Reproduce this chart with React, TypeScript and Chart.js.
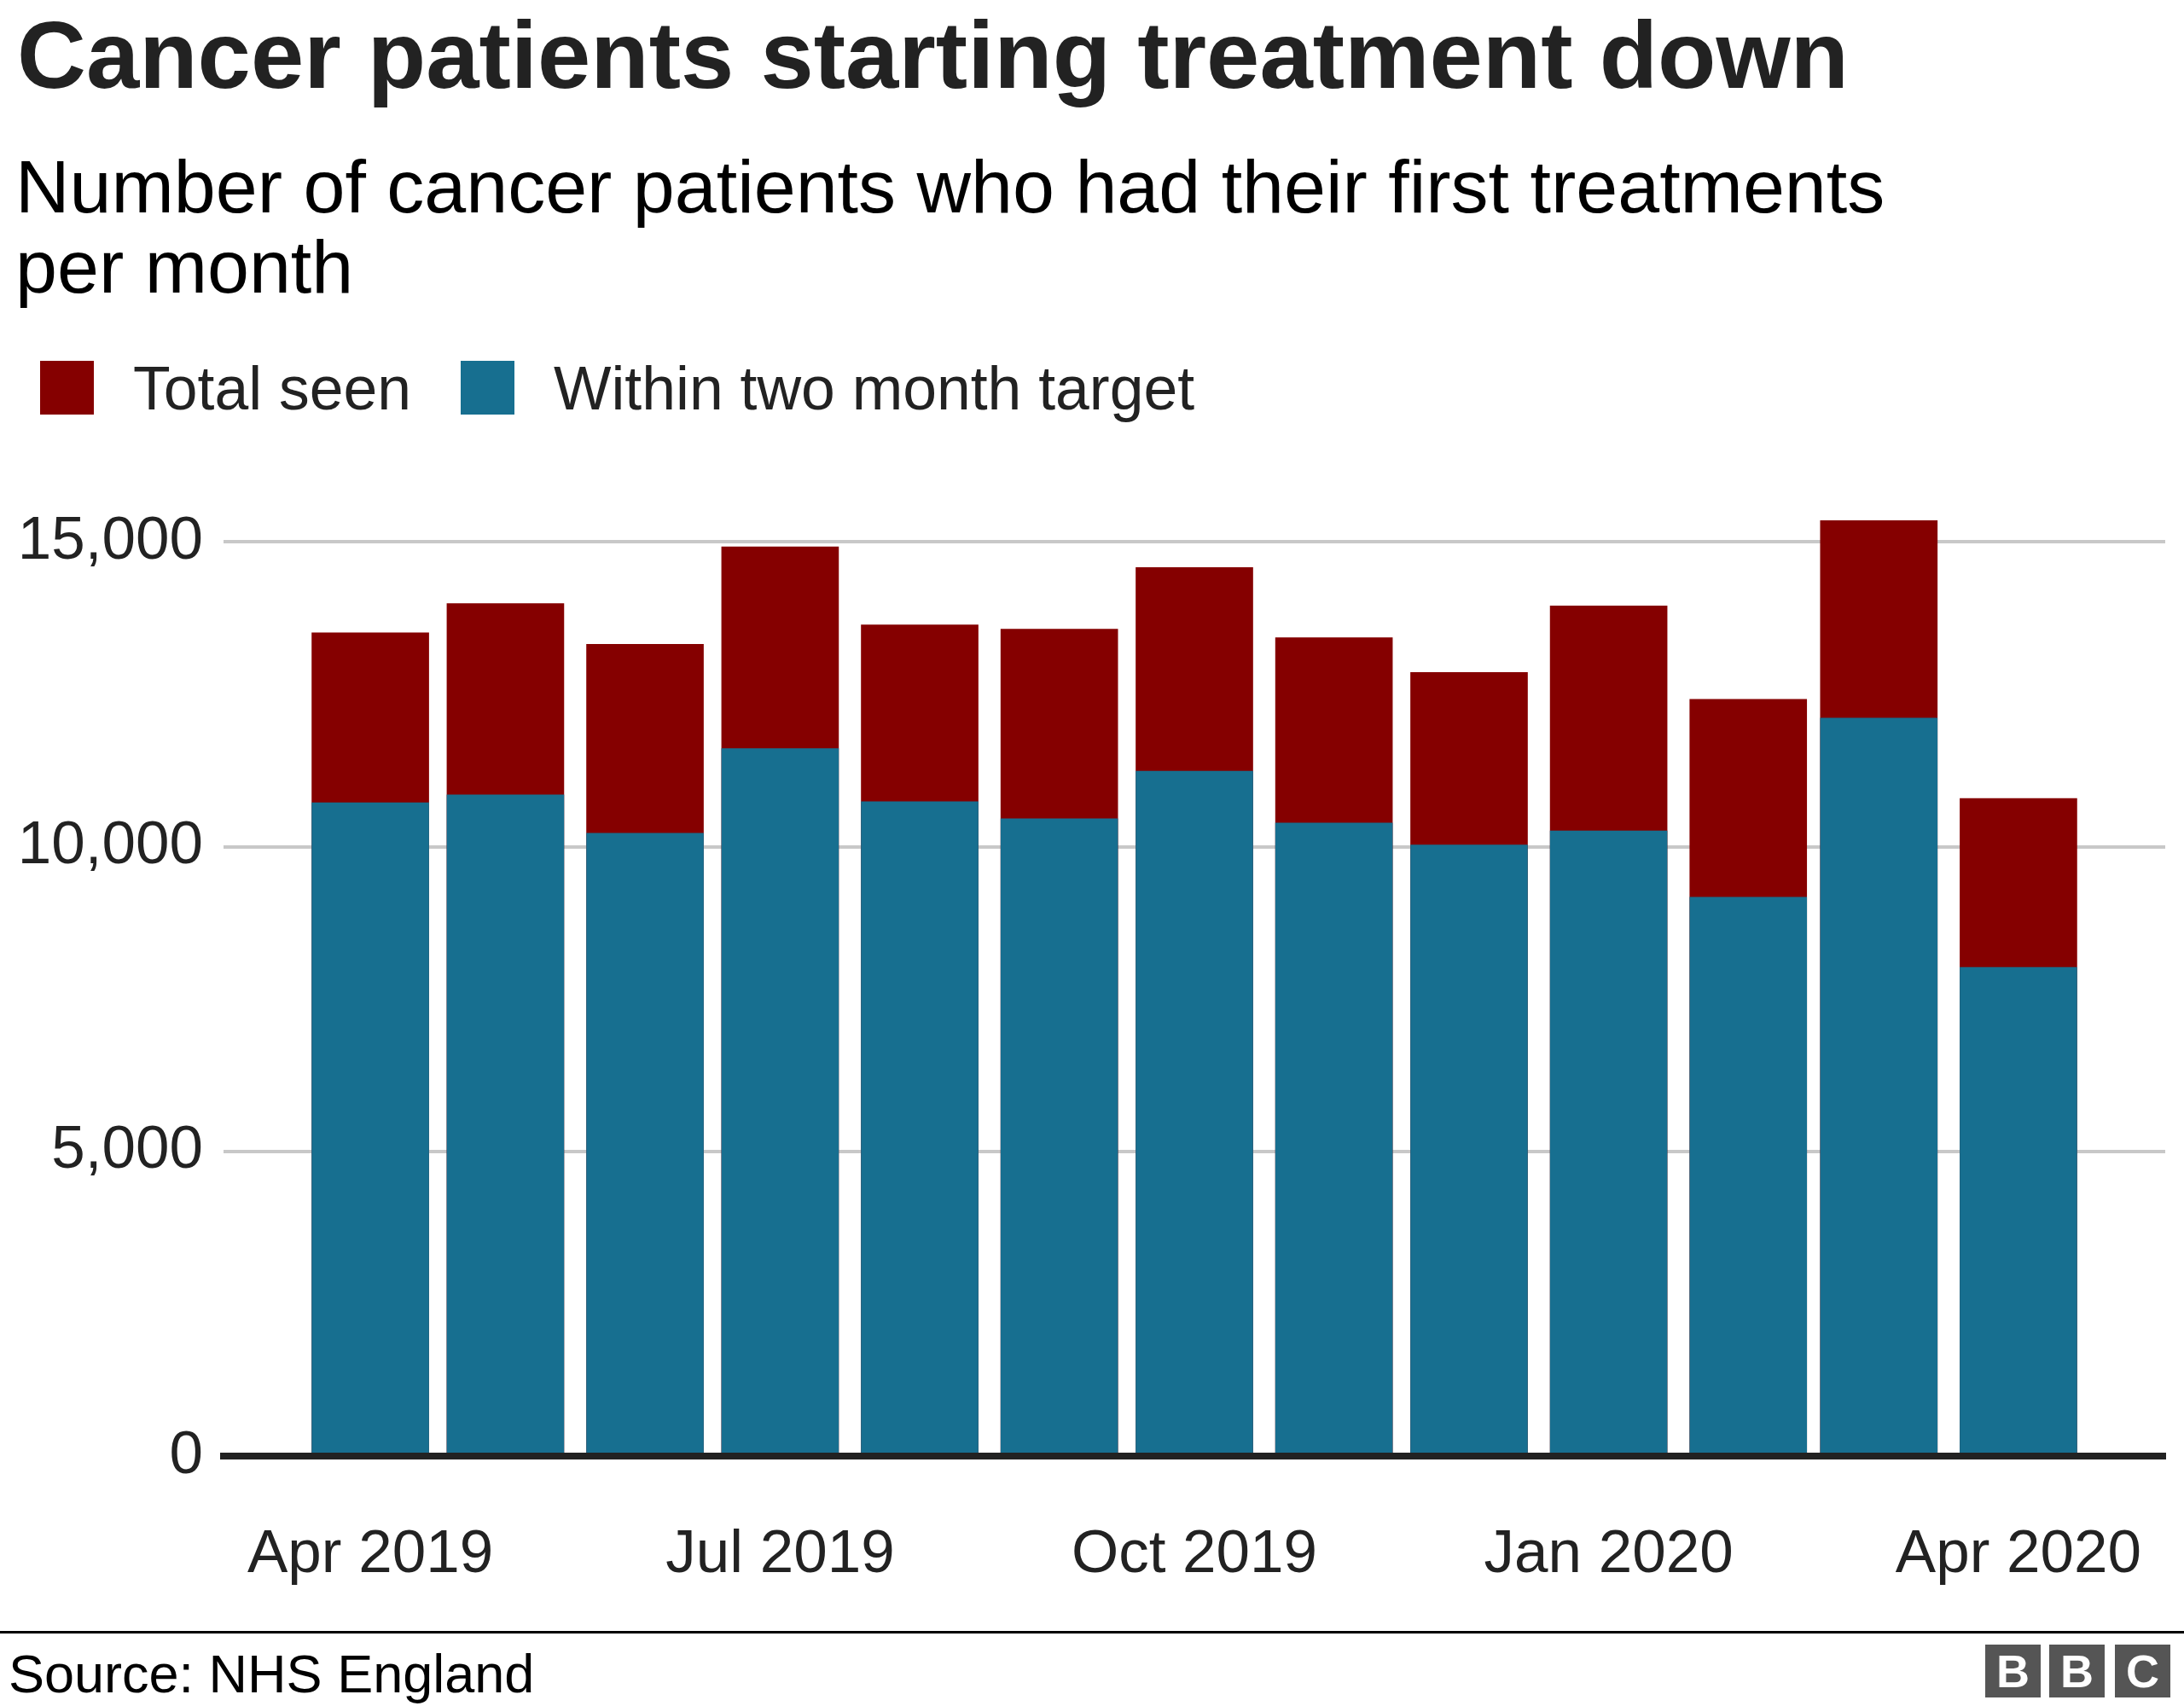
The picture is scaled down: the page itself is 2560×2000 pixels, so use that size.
import React, { useEffect, useRef } from "react";
import { Chart, registerables } from "chart.js";

Chart.register(...registerables);

// ---- Data ----
const months = [
  "2019-04", "2019-05", "2019-06", "2019-07", "2019-08", "2019-09", "2019-10",
  "2019-11", "2019-12", "2020-01", "2020-02", "2020-03", "2020-04",
];
const totalSeen = [13510, 13990, 13320, 14920, 13640, 13570, 14580, 13430, 12860, 13950, 12420, 15350, 10790];
const withinTarget = [10720, 10850, 10220, 11610, 10740, 10460, 11240, 10390, 10030, 10260, 9170, 12110, 8020];
const xTickMonths = ["2019-04", "2019-07", "2019-10", "2020-01", "2020-04"];
const xTickLabels = ["Apr 2019", "Jul 2019", "Oct 2019", "Jan 2020", "Apr 2020"];
const yTickValues = [0, 5000, 10000, 15000];

const seriesLabels = ["Total seen", "Within two month target"];
const RED = "#850000";
const BLUE = "#176F90";
const FONT = '"Liberation Sans", Arial, Helvetica, sans-serif';

const dayOf = (m: string) => {
  const [y, mo] = m.split("-").map(Number);
  return (Date.UTC(y, mo - 1, 1) - Date.UTC(2019, 3, 1)) / 86400000;
};

const fmt = new Intl.NumberFormat("en-GB");

function ChartCanvas() {
  const ref = useRef<HTMLCanvasElement | null>(null);
  useEffect(() => {
    if (!ref.current) return;
    const chart = new Chart(ref.current, {
      type: "bar",
      data: {
        datasets: [
          {
            label: seriesLabels[1],
            data: months.map((m, i) => ({ x: dayOf(m), y: withinTarget[i] })),
            backgroundColor: BLUE,
            borderWidth: 0,
            barThickness: 137,
            grouped: false,
          } as any,
          {
            label: seriesLabels[0],
            data: months.map((m, i) => ({ x: dayOf(m), y: totalSeen[i] })),
            backgroundColor: RED,
            borderWidth: 0,
            barThickness: 137,
            grouped: false,
          } as any,
        ],
      },
      options: {
        responsive: false,
        animation: false,
        devicePixelRatio: 1,
        layout: { padding: { left: 0, right: 22, top: 564, bottom: 93 } },
        plugins: {
          legend: { display: false },
          tooltip: { enabled: false },
          title: { display: false },
        },
        scales: {
          x: {
            type: "linear",
            offset: false,
            min: -32.6,
            max: 398.6,
            grid: { display: false, drawTicks: false },
            border: { display: true, color: "#222222", width: 8, z: 1 },
            afterBuildTicks: (scale: any) => {
              scale.ticks = xTickMonths.map((m) => ({ value: dayOf(m) }));
            },
            afterFit: (scale: any) => {
              scale.height = 200;
              scale.paddingLeft = 0;
              scale.paddingRight = 0;
            },
            ticks: {
              autoSkip: false,
              maxRotation: 0,
              minRotation: 0,
              padding: 74,
              color: "#222222",
              font: { family: FONT, size: 71 },
              callback: (_v: any, i: number) => xTickLabels[i],
            },
          },
          y: {
            min: 0,
            max: 16000,
            grid: { color: "#c8c8c8", lineWidth: 4, drawTicks: false },
            border: { display: false },
            afterBuildTicks: (scale: any) => {
              scale.ticks = yTickValues.map((v) => ({ value: v }));
            },
            afterFit: (scale: any) => {
              scale.width = 262;
              scale.paddingTop = 0;
              scale.paddingBottom = 0;
            },
            ticks: {
              padding: 24,
              color: "#222222",
              font: { family: FONT, size: 71 },
              callback: (v: any) => fmt.format(Number(v)),
            },
          },
        },
      } as any,
    });
    return () => chart.destroy();
  }, []);
  return (
    <canvas
      ref={ref}
      width={2560}
      height={2000}
      style={{ position: "absolute", left: 0, top: 0, width: 2560, height: 2000 }}
    />
  );
}

const textAt = (
  text: string,
  left: number,
  baseline: number,
  size: number,
  extra: React.CSSProperties = {}
) => (
  <div
    style={{
      position: "absolute",
      left,
      top: baseline - size * 0.8465,
      fontSize: size,
      lineHeight: `${size}px`,
      fontFamily: FONT,
      whiteSpace: "nowrap",
      ...extra,
    }}
  >
    {text}
  </div>
);

export default function App() {
  return (
    <div style={{ position: "absolute", left: 0, top: 0, width: 2560, height: 2000, background: "#fff", overflow: "hidden" }}>
      <ChartCanvas />
      {textAt("Cancer patients starting treatment down", 20, 103.5, 112, { fontWeight: 700, color: "#222222" })}
      <div
        style={{
          position: "absolute",
          left: 18,
          top: 171.5,
          width: 2300,
          fontSize: 88,
          lineHeight: "94px",
          fontFamily: FONT,
          color: "#000",
        }}
      >
        Number of cancer patients who had their first treatments per month
      </div>
      <div style={{ position: "absolute", left: 47, top: 423, width: 63, height: 63, background: RED }} />
      {textAt(seriesLabels[0], 156, 481, 71.5, { color: "#222222" })}
      <div style={{ position: "absolute", left: 540, top: 423, width: 63, height: 63, background: BLUE }} />
      {textAt(seriesLabels[1], 649, 481, 71.5, { color: "#222222" })}
      <div style={{ position: "absolute", left: 0, top: 1912, width: 2560, height: 3, background: "#000" }} />
      {textAt("Source: NHS England", 10, 1984, 63, { color: "#000" })}
      {["B", "B", "C"].map((l, i) => (
        <div
          key={i}
          style={{
            position: "absolute",
            left: [2327, 2402, 2479][i],
            top: 1928,
            width: 65,
            height: 62,
            background: "#555555",
            color: "#fff",
            fontFamily: FONT,
            fontWeight: 700,
            fontSize: 54,
            lineHeight: "62px",
            textAlign: "center",
          }}
        >
          {l}
        </div>
      ))}
    </div>
  );
}
